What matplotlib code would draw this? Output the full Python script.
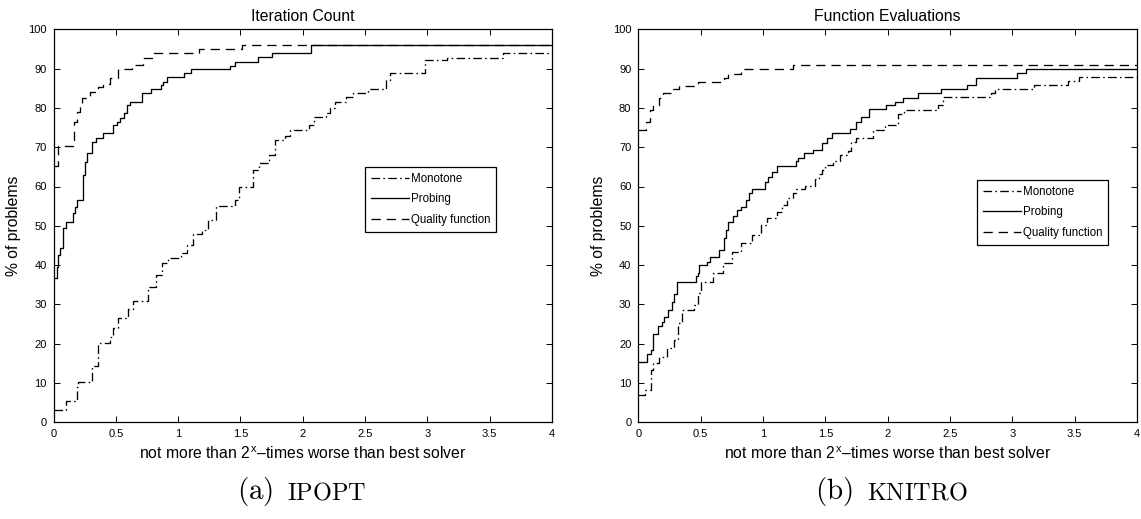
import matplotlib
matplotlib.use('Agg')
import matplotlib.pyplot as plt

plt.rcParams['font.family'] = ['Liberation Sans', 'DejaVu Sans']
plt.rcParams['mathtext.fontset'] = 'cm'

# ---------------- data ----------------
series_names = ['Monotone', 'Probing', 'Quality function']
panel_titles = ['Iteration Count', 'Function Evaluations']
captions = [('(a)', 'IPOPT'), ('(b)', 'KNITRO')]
xtick_vals = [0, 0.5, 1, 1.5, 2, 2.5, 3, 3.5, 4]
xtick_labels = ['0', '0.5', '1', '1.5', '2', '2.5', '3', '3.5', '4']
ytick_vals = [0, 10, 20, 30, 40, 50, 60, 70, 80, 90, 100]

# (a) IPOPT - Iteration Count
ipopt_mono_x = [0, 0.10, 0.19, 0.20, 0.31, 0.36, 0.45, 0.48, 0.52, 0.60, 0.64, 0.76, 0.82,
                0.87, 0.92, 1.02, 1.07, 1.12, 1.19, 1.24, 1.30, 1.46, 1.49, 1.60, 1.65, 1.73,
                1.78, 1.86, 1.90, 2.05, 2.09, 2.19, 2.22, 2.26, 2.35, 2.40, 2.52, 2.67, 2.70,
                2.98, 3.16, 3.61, 4.0]
ipopt_mono_y = [3.1, 5.3, 9.1, 10.2, 14.2, 20.1, 21.6, 23.9, 26.5, 28.8, 30.9, 34.5, 37.5,
                40.6, 41.7, 43.0, 45.1, 48.0, 49.0, 51.5, 55.0, 56.6, 60.0, 64.2, 66.0, 68.0,
                71.8, 72.9, 74.4, 75.6, 77.8, 78.7, 80.0, 81.6, 82.9, 83.7, 84.8, 87.1, 88.8,
                92.2, 92.8, 93.9, 93.9]
ipopt_prob_x = [0, 0.025, 0.04, 0.05, 0.075, 0.10, 0.16, 0.17, 0.19, 0.235, 0.255, 0.27,
                0.31, 0.34, 0.40, 0.475, 0.51, 0.53, 0.565, 0.59, 0.61, 0.71, 0.78, 0.86,
                0.88, 0.91, 1.05, 1.10, 1.415, 1.46, 1.64, 1.75, 2.07, 4.0]
ipopt_prob_y = [36.6, 39.6, 42.6, 44.3, 49.4, 51.0, 53.2, 54.9, 56.6, 62.9, 66.3, 68.4,
                71.4, 72.4, 73.5, 75.6, 76.5, 77.5, 78.6, 80.7, 81.6, 83.7, 84.7, 85.8,
                86.7, 87.8, 88.8, 89.9, 90.7, 91.8, 92.9, 93.9, 96.0, 96.0]
ipopt_qual_x = [0, 0.04, 0.165, 0.19, 0.21, 0.23, 0.29, 0.36, 0.40, 0.45, 0.52, 0.63, 0.72,
                0.79, 1.17, 1.51, 4.0]
ipopt_qual_y = [65.3, 70.4, 76.5, 79.0, 81.0, 82.5, 84.0, 85.2, 86.2, 87.5, 90.0, 91.0, 92.8,
                93.9, 94.9, 96.0, 96.0]

# (b) KNITRO - Function Evaluations
knitro_mono_x = [0, 0.05, 0.10, 0.12, 0.17, 0.23, 0.29, 0.32, 0.35, 0.445, 0.48, 0.50, 0.60,
                 0.68, 0.75, 0.82, 0.91, 0.985, 1.03, 1.11, 1.155, 1.19, 1.24, 1.265, 1.34,
                 1.42, 1.45, 1.47, 1.50, 1.56, 1.62, 1.68, 1.71, 1.745, 1.88, 1.98, 2.08,
                 2.13, 2.40, 2.44, 2.825, 2.86, 3.175, 3.445, 3.535, 4.0]
knitro_mono_y = [6.9, 8.2, 13.3, 15.0, 16.7, 18.8, 20.9, 25.2, 28.6, 29.8, 32.8, 35.8, 37.9,
                 40.5, 43.4, 45.5, 47.7, 50.2, 52.1, 53.6, 55.3, 57.0, 58.3, 59.3, 60.2,
                 62.0, 63.1, 64.2, 65.5, 66.5, 68.0, 69.0, 71.4, 72.4, 74.4, 75.6, 78.4,
                 79.5, 80.7, 82.8, 83.7, 84.8, 85.8, 86.8, 87.8, 87.8]
knitro_prob_x = [0, 0.07, 0.10, 0.12, 0.16, 0.19, 0.21, 0.24, 0.27, 0.29, 0.31, 0.46, 0.475,
                 0.49, 0.555, 0.575, 0.645, 0.685, 0.70, 0.72, 0.76, 0.79, 0.82, 0.86, 0.89,
                 0.91, 1.02, 1.04, 1.07, 1.11, 1.265, 1.28, 1.33, 1.40, 1.475, 1.51, 1.555,
                 1.70, 1.745, 1.785, 1.85, 1.985, 2.055, 2.12, 2.24, 2.425, 2.64, 2.71, 3.04,
                 3.11, 4.0]
knitro_prob_y = [15.4, 17.3, 18.4, 22.4, 24.5, 25.6, 26.9, 28.6, 30.7, 32.6, 35.8, 37.1, 37.9,
                 39.9, 40.7, 42.0, 43.8, 46.8, 48.9, 51.0, 52.6, 54.0, 54.9, 56.6, 58.3,
                 59.3, 61.2, 62.5, 63.8, 65.3, 66.5, 67.3, 68.4, 69.4, 71.0, 72.3, 73.5,
                 74.6, 76.5, 77.8, 79.7, 80.7, 81.6, 82.6, 83.7, 84.8, 85.8, 87.7, 88.8,
                 89.9, 89.9]
knitro_qual_x = [0, 0.06, 0.09, 0.12, 0.17, 0.20, 0.28, 0.33, 0.48, 0.69, 0.72, 0.82, 1.24, 4.0]
knitro_qual_y = [74.5, 76.5, 79.4, 80.7, 82.4, 83.7, 84.7, 85.6, 86.6, 87.7, 88.6, 89.9, 90.9, 90.9]

panels = [
    [(ipopt_mono_x, ipopt_mono_y), (ipopt_prob_x, ipopt_prob_y), (ipopt_qual_x, ipopt_qual_y)],
    [(knitro_mono_x, knitro_mono_y), (knitro_prob_x, knitro_prob_y), (knitro_qual_x, knitro_qual_y)],
]

# ---------------- styling ----------------
W, H = 1141, 519
fig = plt.figure(figsize=(W / 100, H / 100), dpi=100)

ax_boxes = [
    (53.5, 29.3, 552.0, 422.3),
    (638.3, 29.3, 1137.0, 422.3),
]
legend_anchor = [(0.625, 0.65), (0.679, 0.617)]
styles = [
    dict(linestyle=(0, (6.5, 2.5, 1.2, 2.5))),
    dict(linestyle='-'),
    dict(linestyle=(0, (7, 4.5))),
]
caption_x = [302, 891]
caption_gap = 14  # px between label and name

for i, (x0, y0, x1, y1) in enumerate(ax_boxes):
    ax = fig.add_axes([x0 / W, 1 - y1 / H, (x1 - x0) / W, (y1 - y0) / H])
    for (xs, ys), name, st in zip(panels[i], series_names, styles):
        ax.plot(xs, ys, drawstyle='steps-post', color='black', linewidth=0.95,
                label=name, **st)
    ax.set_xlim(0, 4)
    ax.set_ylim(0, 100)
    ax.set_xticks(xtick_vals)
    ax.set_xticklabels(xtick_labels)
    ax.set_yticks(ytick_vals)
    ax.tick_params(direction='in', top=True, right=True, length=4, width=0.7,
                   labelsize=8, pad=5)
    for sp in ax.spines.values():
        sp.set_linewidth(0.9)
    ax.set_title(panel_titles[i], fontsize=11.3, pad=6)
    ax.set_xlabel(r'not more than 2$^\mathregular{x}$$\mathregular{–}$times worse than best solver',
                  fontsize=11.3, labelpad=5)
    ax.set_ylabel('% of problems', fontsize=11.3, labelpad=5)
    leg = ax.legend(loc='upper left', bbox_to_anchor=legend_anchor[i], fontsize=8.3,
                    frameon=True, fancybox=False, framealpha=1, edgecolor='black',
                    handlelength=3.3, handletextpad=0.2, labelspacing=0.75,
                    borderpad=0.5, borderaxespad=0)
    leg.get_frame().set_linewidth(0.9)

# captions, centred under each panel
renderer = fig.canvas.get_renderer()
cy = 1 - 499 / H
for i, (lab, name) in enumerate(captions):
    t1 = fig.text(0, cy, r'$\mathrm{' + lab + '}$', fontsize=21, ha='left', va='baseline')
    t2 = fig.text(0, cy, r'$\mathrm{' + name + '}$', fontsize=17.5, ha='left', va='baseline')
    w1 = t1.get_window_extent(renderer).width
    w2 = t2.get_window_extent(renderer).width
    total = w1 + caption_gap + w2
    left = caption_x[i] - total / 2
    t1.set_x(left / W)
    t2.set_x((left + w1 + caption_gap) / W)

fig.savefig('out.png', dpi=100)
